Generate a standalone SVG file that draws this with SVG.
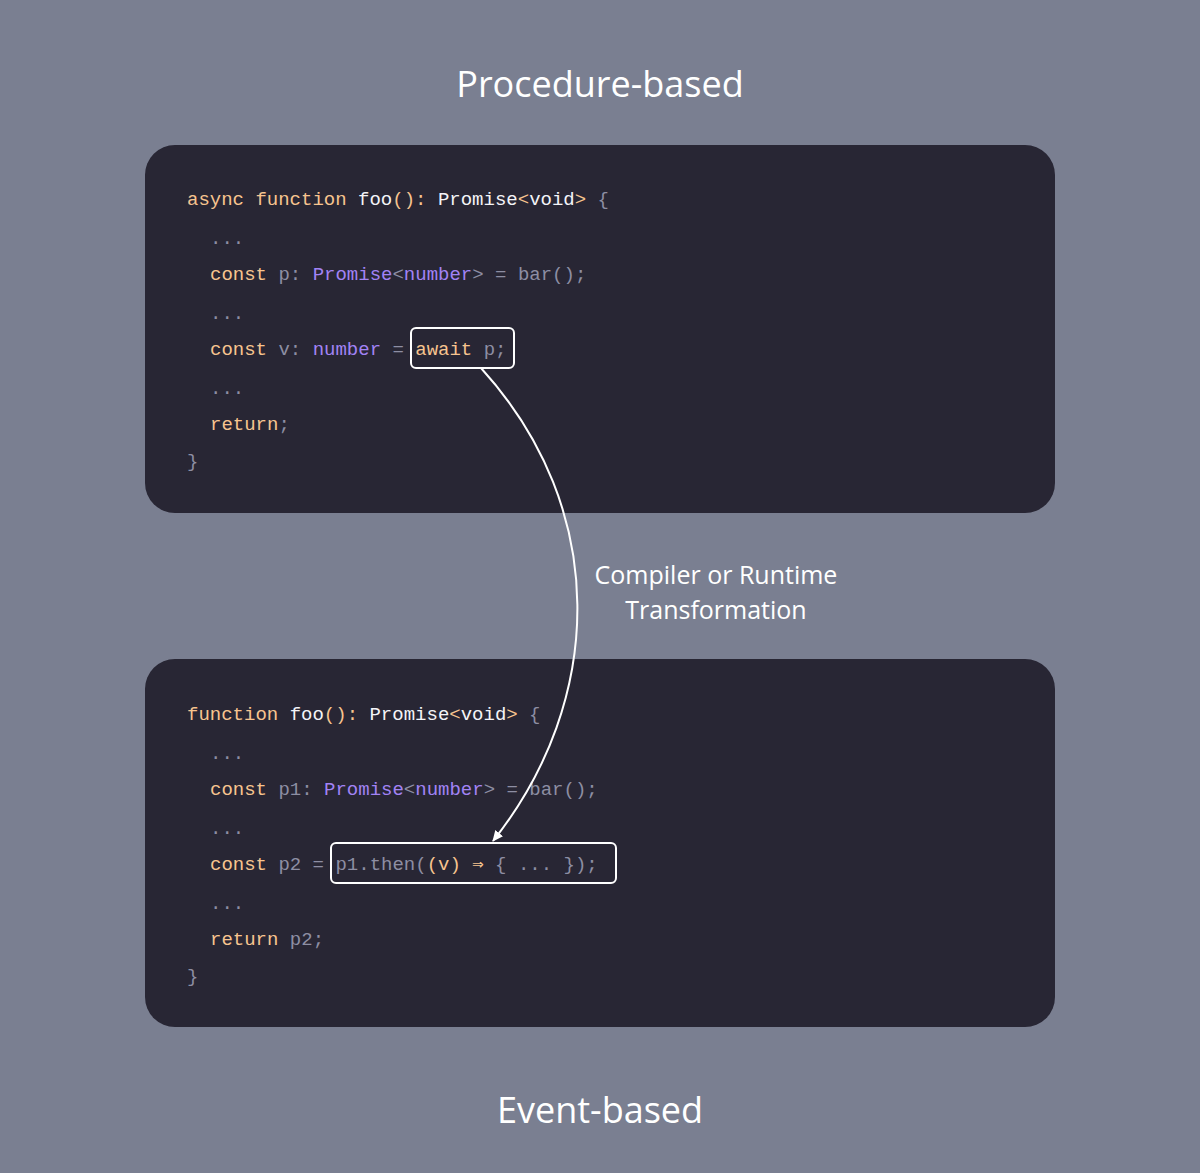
<svg xmlns="http://www.w3.org/2000/svg" width="1200" height="1173" viewBox="0 0 1200 1173">
<style>
.t{font-family:"Open Sans","Noto Sans",sans-serif;fill:#fff;text-anchor:middle}
.c{font-family:"Liberation Mono","DejaVu Sans Mono",monospace;font-size:19px;fill:#8d8ea3;white-space:pre}
.k{fill:#f7c48f}.w{fill:#f4f4f8}.p{fill:#a283f5}
.panel{fill:#282634}
.hl{fill:none;stroke:#fff;stroke-width:2}
</style>
<defs><marker id="ah" markerWidth="12" markerHeight="12" refX="10" refY="6" orient="auto" markerUnits="userSpaceOnUse"><path d="M0,1 L11,6 L0,11 Z" fill="#fff"/></marker></defs>
<rect width="1200" height="1173" fill="#7a7f91"/>
<text class="t" x="600" y="97" font-size="36">Procedure-based</text>
<text class="t" x="600" y="1123" font-size="36">Event-based</text>
<g id="procedure">
<rect class="panel" x="145" y="145" width="910" height="368" rx="30"/>
<text class="c" xml:space="preserve" x="187" y="205"><tspan class="k">async function</tspan> <tspan class="w">foo</tspan><tspan class="k">():</tspan> <tspan class="w">Promise</tspan><tspan class="k">&lt;</tspan><tspan class="w">void</tspan><tspan class="k">&gt;</tspan> {</text>
<text class="c" xml:space="preserve" x="210" y="244">...</text>
<text class="c" xml:space="preserve" x="210" y="280"><tspan class="k">const</tspan> p: <tspan class="p">Promise</tspan>&lt;<tspan class="p">number</tspan>&gt; = bar();</text>
<text class="c" xml:space="preserve" x="210" y="319">...</text>
<text class="c" xml:space="preserve" x="210" y="355"><tspan class="k">const</tspan> v: <tspan class="p">number</tspan> = <tspan class="k">await</tspan> p;</text>
<text class="c" xml:space="preserve" x="210" y="394">...</text>
<text class="c" xml:space="preserve" x="210" y="430"><tspan class="k">return</tspan>;</text>
<text class="c" xml:space="preserve" x="187" y="467">}</text>
<rect class="hl" x="411" y="328" width="103" height="40" rx="5"/>
</g>
<g id="event">
<rect class="panel" x="145" y="659" width="910" height="368" rx="30"/>
<text class="c" xml:space="preserve" x="187" y="720"><tspan class="k">function</tspan> <tspan class="w">foo</tspan><tspan class="k">():</tspan> <tspan class="w">Promise</tspan><tspan class="k">&lt;</tspan><tspan class="w">void</tspan><tspan class="k">&gt;</tspan> {</text>
<text class="c" xml:space="preserve" x="210" y="759">...</text>
<text class="c" xml:space="preserve" x="210" y="795"><tspan class="k">const</tspan> p1: <tspan class="p">Promise</tspan>&lt;<tspan class="p">number</tspan>&gt; = bar();</text>
<text class="c" xml:space="preserve" x="210" y="834">...</text>
<text class="c" xml:space="preserve" x="210" y="870"><tspan class="k">const</tspan> p2 = p1.then(<tspan class="k">(v) ⇒</tspan> { ... });</text>
<text class="c" xml:space="preserve" x="210" y="909">...</text>
<text class="c" xml:space="preserve" x="210" y="945"><tspan class="k">return</tspan> p2;</text>
<text class="c" xml:space="preserve" x="187" y="982">}</text>
<rect class="hl" x="331" y="843" width="285" height="40" rx="5"/>
</g>
<g id="connectors">
<path d="M481,368 C610,510 605,700 493,841" fill="none" stroke="#fff" stroke-width="2" marker-end="url(#ah)"/>
<text class="t" x="716" y="584" font-size="25">Compiler or Runtime</text>
<text class="t" x="716" y="619" font-size="25">Transformation</text>
</g>
</svg>
